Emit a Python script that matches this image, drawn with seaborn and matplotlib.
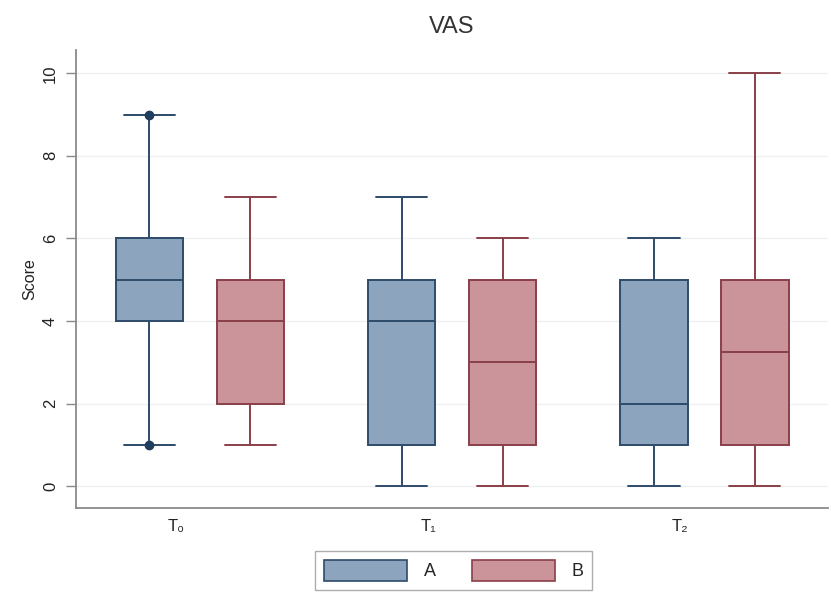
import numpy as np
import pandas as pd
import matplotlib
matplotlib.use("Agg")
import matplotlib.pyplot as plt
import seaborn as sns
from matplotlib.patches import Patch

# Five-number summaries (min, Q1, median, Q3, max) per time point and group
times = ["T\u2080", "T\u2081", "T\u2082"]
groups = ["A", "B"]
lo_A = [1, 0, 0]
q1_A = [4, 1, 1]
med_A = [5, 4, 2]
q3_A = [6, 5, 5]
hi_A = [9, 7, 6]
lo_B = [1, 0, 0]
q1_B = [2, 1, 1]
med_B = [4, 3, 3.25]
q3_B = [5, 5, 5]
hi_B = [7, 6, 10]
# individual points marked for T0 / A
pts_time = ["T\u2080", "T\u2080"]
pts_val = [1, 9]

rows = []
for i, t in enumerate(times):
    for g, (lo, q1, md, q3, hi) in zip(groups, [(lo_A, q1_A, med_A, q3_A, hi_A),
                                                (lo_B, q1_B, med_B, q3_B, hi_B)]):
        for v in (lo[i], q1[i], md[i], q3[i], hi[i]):
            rows.append({"time": t, "group": g, "Score": v})
df = pd.DataFrame(rows)

sns.set_theme(style="white")
plt.rcParams["font.family"] = ["Liberation Sans", "DejaVu Sans"]

fills = {"A": "#8ca4be", "B": "#cb949a"}
edges = {"A": "#2f4b6a", "B": "#8a3f48"}

fig = plt.figure(figsize=(8.31, 5.97), dpi=100)
ax = fig.add_axes([0.0915, 0.149, 0.905, 0.767])

sns.boxplot(data=df, x="time", y="Score", hue="group", order=times,
            hue_order=groups, palette=fills, whis=(0, 100), gap=1/3,
            width=0.8, linewidth=1.4, saturation=1, legend=False, ax=ax)

# colour box outlines, whiskers, caps and medians by group (A left, B right)
def group_of(xvals):
    xm = float(np.mean(xvals))
    return "A" if xm - round(xm) < 0 else "B"

box_w = 0.4 * (1 - 1/3)
for artist in ax.patches:
    xs = artist.get_path().vertices[:, 0]
    artist.set_edgecolor(edges[group_of(xs)])
for line in ax.lines:
    xd = np.asarray(line.get_xdata(), dtype=float)
    if xd.size == 0:
        continue
    line.set_color(edges[group_of(xd)])
    yd = np.asarray(line.get_ydata(), dtype=float)
    span = xd.max() - xd.min()
    # widen the whisker caps
    if xd.size == 2 and yd[0] == yd[1] and 0 < span < box_w * 0.9:
        c = xd.mean()
        half = box_w * 0.38
        line.set_xdata([c - half, c + half])

# marked observations for group A at T0
ax.plot([times.index(t) - 0.2 for t in pts_time], pts_val, "o",
        color="#1f3d5e", markersize=6, zorder=5)

ax.set_xlim(-0.49, 2.49)
ax.set_ylim(-0.53, 10.56)
ax.set_yticks(range(0, 11, 2))
ax.set_yticklabels([str(v) for v in range(0, 11, 2)], rotation=90,
                   va="center", fontsize=12, color="#222222")
ax.yaxis.grid(True, color="#eef0f2", linewidth=1.0)
ax.set_axisbelow(True)
ax.set_xticks([i - 0.095 for i in range(len(times))])
ax.set_xticklabels(times, fontsize=12, color="#222222")
ax.tick_params(axis="x", length=0, pad=8)
ax.tick_params(axis="y", length=7, width=1, color="#888888", direction="out",
               left=True, pad=6)
ax.set_xlabel("")
ax.set_ylabel("Score", fontsize=11.5, color="#222222", labelpad=4)
for s in ("top", "right"):
    ax.spines[s].set_visible(False)
for s in ("left", "bottom"):
    ax.spines[s].set_color("#8a8a8a")
    ax.spines[s].set_linewidth(1.3)

ax.set_title("VAS", fontsize=17, color="#333333", pad=12)

handles = [Patch(facecolor=fills[g], edgecolor=edges[g], linewidth=1.2, label=g)
           for g in groups]
fig.legend(handles=handles, loc="center", bbox_to_anchor=(0.546, 0.045),
           ncol=2, fontsize=13, frameon=True, fancybox=False,
           edgecolor="#999999", handlelength=4.6, handleheight=1.4,
           columnspacing=2.0, handletextpad=0.9, borderpad=0.5)

fig.savefig("out.png", dpi=100, facecolor="white")
